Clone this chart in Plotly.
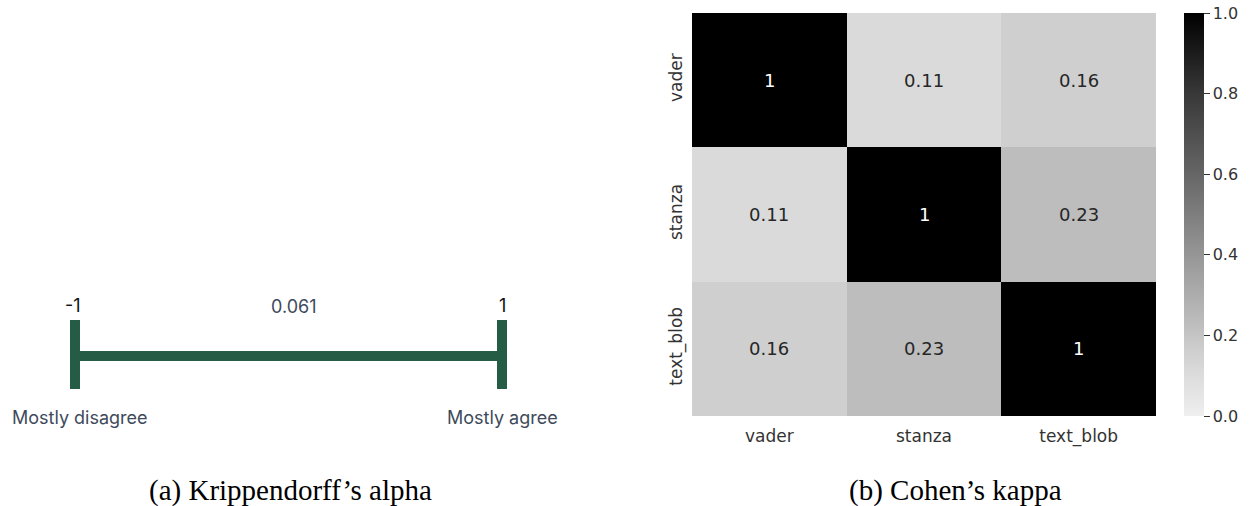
import plotly.graph_objects as go

# ---- data ----
scale_labels = ["-1", "1"]
scale_values = [-1, 1]
alpha_value = 0.061
end_labels = ["Mostly disagree", "Mostly agree"]

methods = ["vader", "stanza", "text_blob"]
kappa = [
    [1.0, 0.11, 0.16],
    [0.11, 1.0, 0.23],
    [0.16, 0.23, 1.0],
]
cbar_ticks = [0.0, 0.2, 0.4, 0.6, 0.8, 1.0]
captions = ["(a) Krippendorff\u2019s alpha", "(b) Cohen\u2019s kappa"]

W, H = 1251, 506
GREEN = "#255C45"
SLATE = "#3E4A5B"

fig = go.Figure()

# ---- left panel: scale ----
px_lo, px_hi = 75, 502
ppu = (px_hi - px_lo) / (scale_values[1] - scale_values[0])
left_w = 580
x0 = scale_values[0] - px_lo / ppu
x1 = scale_values[1] + (left_w - px_hi) / ppu

fig.add_trace(go.Scatter(x=scale_values, y=[356, 356], mode="lines",
                         line=dict(color=GREEN, width=10), xaxis="x", yaxis="y",
                         hoverinfo="skip", showlegend=False))
for v in scale_values:
    fig.add_trace(go.Scatter(x=[v, v], y=[320, 389], mode="lines",
                             line=dict(color=GREEN, width=10), xaxis="x", yaxis="y",
                             hoverinfo="skip", showlegend=False))

for v, lab in zip(scale_values, scale_labels):
    fig.add_annotation(x=v, y=305, xref="x", yref="y", text=lab, showarrow=False,
                       xshift=-2 if v < 0 else 0,
                       font=dict(family="Inter", size=18, color="#111111"))
fig.add_annotation(x=(scale_values[0] + scale_values[1]) / 2, y=306, xref="x", yref="y",
                   text=f"{alpha_value:.3f}", showarrow=False, xshift=5,
                   font=dict(family="Inter", size=18, color=SLATE))
fig.add_annotation(x=scale_values[0], y=417, xref="x", yref="y", text=end_labels[0],
                   showarrow=False, xshift=5,
                   font=dict(family="Inter", size=18, color=SLATE))
fig.add_annotation(x=scale_values[1], y=417, xref="x", yref="y", text=end_labels[1],
                   showarrow=False,
                   font=dict(family="Inter", size=18, color=SLATE))

# ---- right panel: heatmap ----
colorscale = [[0.0, "#efefef"], [0.11, "#dadada"], [0.16, "#cfcfcf"], [0.23, "#bdbdbd"],
              [0.4, "#969696"], [0.6, "#666666"], [0.8, "#383838"], [1.0, "#000000"]]

hx0, hx1, hy0, hy1 = 692, 1156, 13, 416
cb_x, cb_w = 1184, 20

fig.add_trace(go.Heatmap(
    z=kappa, x=methods, y=methods, xaxis="x2", yaxis="y2",
    colorscale=colorscale, zmin=0, zmax=1, xgap=0, ygap=0,
    hoverinfo="skip",
    colorbar=dict(
        x=cb_x / W, xanchor="left", xref="paper", xpad=0, ypad=0,
        y=1 - hy0 / H, yanchor="top", len=(hy1 - hy0) / H, lenmode="fraction",
        thickness=cb_w, thicknessmode="pixels", outlinewidth=0,
        tickvals=cbar_ticks, ticktext=[f"{t:.1f}" for t in cbar_ticks],
        ticks="outside", ticklen=6, tickwidth=1, tickcolor="#333333",
        tickfont=dict(family="DejaVu Sans", size=16, color="#333333"),
    ),
))

for i, row in enumerate(kappa):
    for j, v in enumerate(row):
        fig.add_annotation(x=methods[j], y=methods[i], xref="x2", yref="y2",
                           text=f"{v:.2g}", showarrow=False,
                           font=dict(family="DejaVu Sans", size=18,
                                     color="#ffffff" if v > 0.5 else "#262626"))

for cx, lab in zip([290, 955], captions):
    fig.add_annotation(x=cx / W, y=1 - 490 / H, xref="paper", yref="paper", text=lab,
                       showarrow=False, xanchor="center", yanchor="middle",
                       font=dict(family="Liberation Serif", size=29, color="#000000"))

fig.update_layout(
    width=W, height=H, margin=dict(l=0, r=0, t=0, b=0),
    paper_bgcolor="white", plot_bgcolor="white", showlegend=False,
    xaxis=dict(domain=[0, left_w / W], range=[x0, x1], visible=False, fixedrange=True),
    yaxis=dict(domain=[0, 1], range=[H, 0], visible=False, fixedrange=True),
    xaxis2=dict(domain=[hx0 / W, hx1 / W], anchor="y2", showgrid=False, zeroline=False,
                showline=False, ticks="", ticklen=0, ticklabelstandoff=8,
                tickfont=dict(family="DejaVu Sans", size=17, color="#333333")),
    yaxis2=dict(domain=[1 - hy1 / H, 1 - hy0 / H], anchor="x2", autorange="reversed",
                showgrid=False, zeroline=False, showline=False, ticks="",
                tickangle=-90, ticklabelstandoff=6,
                tickfont=dict(family="DejaVu Sans", size=17, color="#333333")),
)

fig.write_html("out.html", config={"displayModeBar": False},
               post_script="document.body.style.margin='0';")
